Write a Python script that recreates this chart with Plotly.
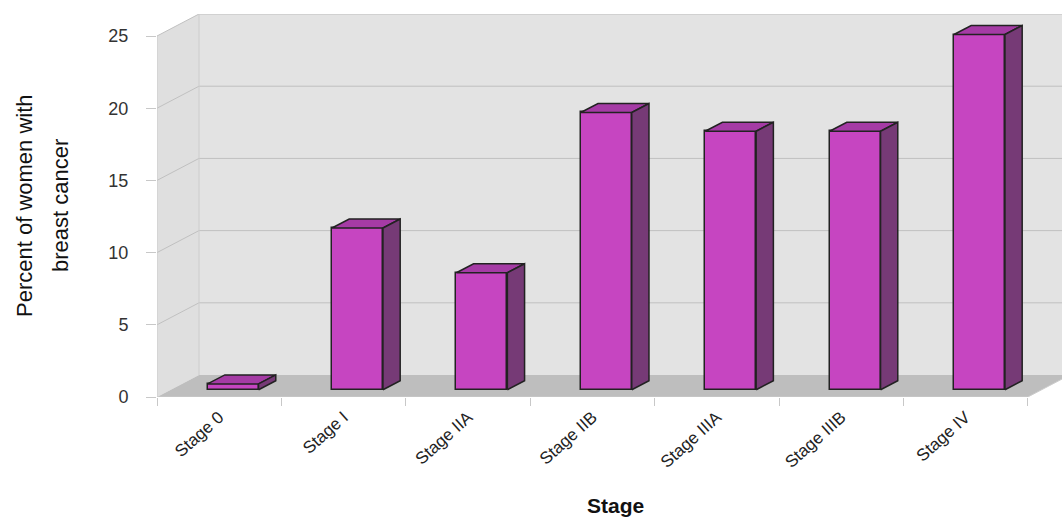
import plotly.graph_objects as go

# Share of women with breast cancer by stage at diagnosis (%)
stages = ["Stage 0", "Stage I", "Stage IIA", "Stage IIB", "Stage IIIA", "Stage IIIB", "Stage IV"]
percent = [0.4, 11.2, 8.1, 19.2, 17.9, 17.9, 24.6]
y_ticks = [0, 5, 10, 15, 20, 25]

# --- pseudo-3D geometry (in axis units) ---
PX_PER_X = 124.4          # pixels per category
PX_PER_Y = 14.44          # pixels per percent
DX = 42 / PX_PER_X        # depth offset of the back wall, x units
DY = 22 / PX_PER_Y        # depth offset of the back wall, y units
BAR_W = 0.41              # bar width (category units)
BAR_FRONT = 0.33          # depth fraction where bar fronts sit
BAR_DEPTH = 0.41          # depth fraction covered by each bar
WALL_TOP = 25
X0, X1 = -0.5, len(stages) - 0.5

FONT = "Liberation Sans, Arial, sans-serif"
GRID = "#c0c0c0"


def proj(x, y, d):
    return x + d * DX, y + d * DY


def path(points):
    return "M " + " L ".join(f"{x:.5f},{y:.5f}" for x, y in points) + " Z"


def line_path(points):
    return "M " + " L ".join(f"{x:.5f},{y:.5f}" for x, y in points)


shapes = []
# back wall
shapes.append(dict(type="path", xref="x", yref="y", layer="below",
                   path=path([proj(X0, 0, 1), proj(X1 + 1, 0, 1),
                              proj(X1 + 1, WALL_TOP, 1), proj(X0, WALL_TOP, 1)]),
                   fillcolor="#e3e3e3", line=dict(width=0)))
# left side wall
shapes.append(dict(type="path", xref="x", yref="y", layer="below",
                   path=path([proj(X0, 0, 0), proj(X0, 0, 1),
                              proj(X0, WALL_TOP, 1), proj(X0, WALL_TOP, 0)]),
                   fillcolor="#dfdfdf", line=dict(width=0)))
# floor
shapes.append(dict(type="path", xref="x", yref="y", layer="below",
                   path=path([proj(X0, 0, 0), proj(X1, 0, 0),
                              proj(X1, 0, 1), proj(X0, 0, 1)]),
                   fillcolor="#bebebe", line=dict(width=0)))
# wall gridlines
for v in y_ticks[1:]:
    shapes.append(dict(type="path", xref="x", yref="y", layer="below",
                       path=line_path([proj(X0, v, 0), proj(X0, v, 1), proj(X1 + 1, v, 1)]),
                       line=dict(color=GRID, width=1)))
# wall edges
for pts in ([proj(X0, 0, 0), proj(X0, WALL_TOP, 0)],
            [proj(X0, 0, 1), proj(X0, WALL_TOP, 1)],
            [proj(X0, 0, 0), proj(X1, 0, 0), proj(X1, 0, 1)]):
    shapes.append(dict(type="path", xref="x", yref="y", layer="below",
                       path=line_path(pts), line=dict(color="#cccccc", width=1)))

# bar faces
xs_front = [i - BAR_W / 2 + BAR_FRONT * DX for i in range(len(stages))]
base = BAR_FRONT * DY
ddx, ddy = BAR_DEPTH * DX, BAR_DEPTH * DY

top_x, top_y, side_x, side_y = [], [], [], []
for xl, v in zip(xs_front, percent):
    xr = xl + BAR_W
    yt = base + v
    top_x += [xl, xr, xr + ddx, xl + ddx, xl, None]
    top_y += [yt, yt, yt + ddy, yt + ddy, yt, None]
    side_x += [xr, xr + ddx, xr + ddx, xr, xr, None]
    side_y += [base, base + ddy, yt + ddy, yt, base, None]

fig = go.Figure()
fig.add_trace(go.Bar(
    x=[i + BAR_FRONT * DX for i in range(len(stages))], y=percent, base=base,
    width=BAR_W, marker=dict(color="#c645c1", line=dict(color="#222222", width=1.5)),
    hoverinfo="skip", showlegend=False))
fig.add_trace(go.Scatter(x=top_x, y=top_y, mode="lines", fill="toself",
                         fillcolor="#a53ba5", line=dict(color="#222222", width=1.5),
                         hoverinfo="skip", showlegend=False))
fig.add_trace(go.Scatter(x=side_x, y=side_y, mode="lines", fill="toself",
                         fillcolor="#763a76", line=dict(color="#222222", width=1.5),
                         hoverinfo="skip", showlegend=False))

W, H = 1062, 519
L, R, T, B = 157, 0, 14, 122
plot_w, plot_h = W - L - R, H - T - B

fig.update_layout(
    width=W, height=H,
    margin=dict(l=L, r=R, t=T, b=B),
    paper_bgcolor="white", plot_bgcolor="white",
    shapes=shapes, bargap=0,
    font=dict(family=FONT, color="#222222"),
    xaxis=dict(range=[X0, X0 + plot_w / PX_PER_X], tickmode="array",
               tickvals=list(range(len(stages))), ticktext=stages,
               ticks="", tickangle=-42, tickfont=dict(size=17, color="#222222"),
               ticklabelstandoff=6,
               showgrid=False, zeroline=False, showline=False, fixedrange=True,
               minor=dict(tickmode="array",
                          tickvals=[i - 0.5 for i in range(len(stages) + 1)],
                          ticks="outside", ticklen=8, tickcolor="#c8c8c8",
                          showgrid=False)),
    yaxis=dict(range=[0, plot_h / PX_PER_Y], tickmode="array", tickvals=y_ticks,
               ticks="outside", ticklen=10, tickcolor="#c8c8c8",
               tickfont=dict(size=18, color="#333333"), ticklabelstandoff=14,
               showgrid=False, zeroline=False, showline=False, fixedrange=True),
    annotations=[
        dict(text="Percent of women with", textangle=-90, showarrow=False,
             xref="paper", yref="paper", x=(24 - L) / plot_w, y=(T + plot_h - 206) / plot_h,
             xanchor="center", yanchor="middle", font=dict(size=22, color="#111111")),
        dict(text="breast cancer", textangle=-90, showarrow=False,
             xref="paper", yref="paper", x=(60 - L) / plot_w, y=(T + plot_h - 206) / plot_h,
             xanchor="center", yanchor="middle", font=dict(size=22, color="#111111")),
        dict(text="<b>Stage</b>", showarrow=False,
             xref="paper", yref="paper", x=(615 - L) / plot_w, y=(T + plot_h - 505) / plot_h,
             xanchor="center", yanchor="middle", font=dict(size=21, color="#111111")),
    ],
)

fig.write_html("out.html")
